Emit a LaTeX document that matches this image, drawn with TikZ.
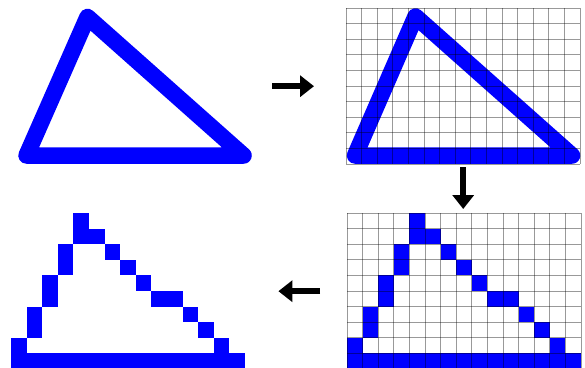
\documentclass[tikz,border=0pt]{standalone}
\usepackage{xcolor}
\usetikzlibrary{arrows.meta}
\definecolor{pblue}{RGB}{0,0,255}

\begin{document}
\begin{tikzpicture}[x=1pt,y=-1pt,
  panel/.style={minimum width=234pt, minimum height=156pt, inner sep=0pt, anchor=north west},
  stroke/.style={pblue, line width=16.5pt, line join=round, line cap=round},
  gridline/.style={black, opacity=0.4, line width=0.9pt},
  pix/.style={fill=pblue},
  flow/.style={-{Triangle[length=14pt,width=21pt]}, line width=5.5pt}]
\useasboundingbox (0,0) rectangle (585,367);
% the four panels
\node[panel] (orig) at (18,8) {};
\node[panel] (grid) at (346,8) {};
\node[panel] (raster) at (347,213) {};
\node[panel] (pixels) at (11,213) {};
% smooth outline
\begin{scope}[shift={(orig.north west)}]
  \draw[stroke] (69.5,9) -- (8.5,147.5) -- (225.5,147.5) -- cycle;
\end{scope}
% outline with the pixel grid laid over it
\begin{scope}[shift={(grid.north west)}]
  \draw[stroke] (69.5,8.5) -- (9,147.5) -- (226,147.5) -- cycle;
  \foreach \i in {0,...,15} \draw[gridline] (\i*15.6,0) -- (\i*15.6,156);
  \foreach \j in {0,...,10} \draw[gridline] (0,\j*15.6) -- (234,\j*15.6);
\end{scope}
% filled cells, with and without the grid
\def\cells{4/0,4/1,5/1,3/2,6/2,3/3,7/3,2/4,8/4,2/5,9/5,10/5,1/6,11/6,1/7,12/7,0/8,13/8}
\foreach \p in {raster,pixels} {
  \begin{scope}[shift={(\p.north west)}]
    \foreach \c/\r in \cells \fill[pix] (\c*15.6,\r*15.6) rectangle ++(15.6,15.6);
    \fill[pix] (0,9*15.6) rectangle (234,10*15.6);
  \end{scope}
}
\begin{scope}[shift={(raster.north west)}]
  \foreach \i in {0,...,15} \draw[gridline] (\i*15.6,0) -- (\i*15.6,156);
  \foreach \j in {0,...,10} \draw[gridline] (0,\j*15.6) -- (234,\j*15.6);
\end{scope}
% steps
\draw[flow, shorten <=20pt, shorten >=32pt] (orig) -- (grid);
\draw[flow, shorten <=3pt, shorten >=4pt] (grid.south) -- (grid.south |- raster.north);
\draw[flow, shorten <=27pt, shorten >=33pt] (raster) -- (pixels);
\end{tikzpicture}
\end{document}
